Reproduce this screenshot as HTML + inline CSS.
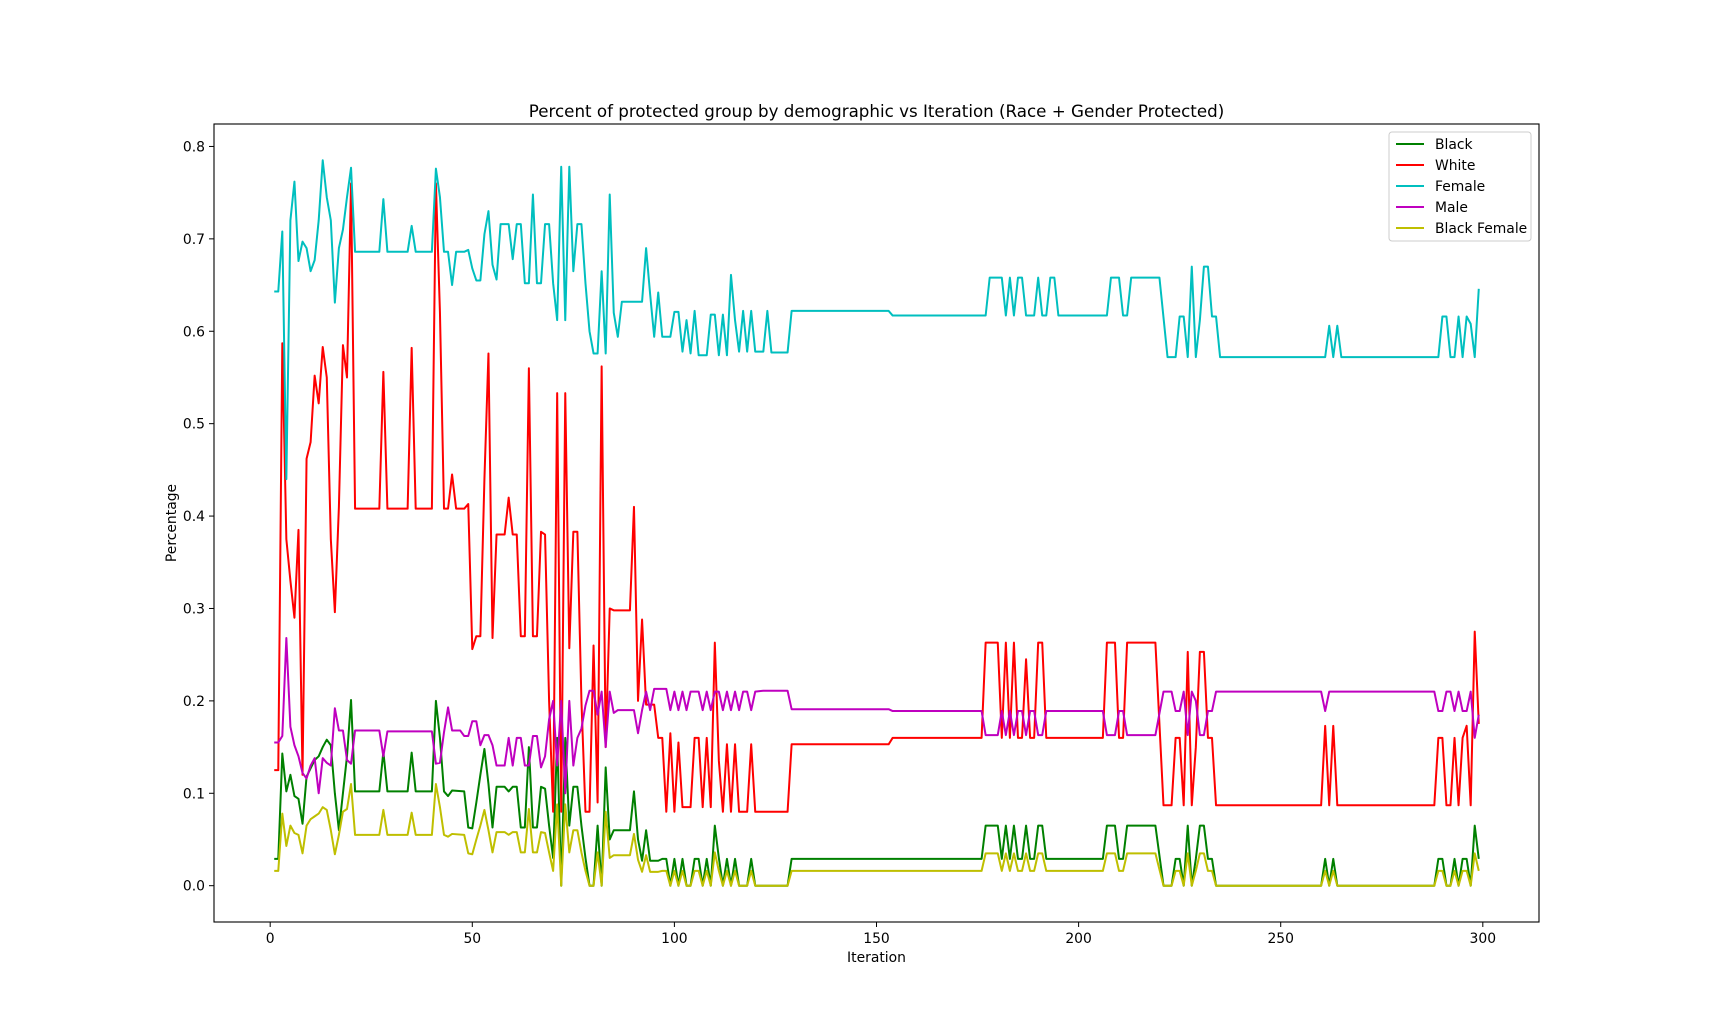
<!DOCTYPE html>
<html><head><meta charset="utf-8"><style>
html,body{margin:0;padding:0;background:#fff;}
svg{display:block;font-family:"DejaVu Sans","Liberation Sans",sans-serif;}
</style></head><body>
<svg id="chart" width="1710" height="1036" viewBox="0 0 1710 1036" xmlns="http://www.w3.org/2000/svg">
<rect width="1710" height="1036" fill="#fff"/>
<text x="876.5" y="117" text-anchor="middle" font-size="16.7">Percent of protected group by demographic vs Iteration (Race + Gender Protected)</text>
<g id="plot"></g>
<text x="876.5" y="962" text-anchor="middle" font-size="13.9">Iteration</text>
<text transform="translate(176,523) rotate(-90)" text-anchor="middle" font-size="13.9">Percentage</text>
</svg>
<script>
const xTicks=[0,50,100,150,200,250,300];
const yTicks=[0.0,0.1,0.2,0.3,0.4,0.5,0.6,0.7,0.8];
const seriesNames=["Black","White","Female","Male","Black Female"];
const seriesColors=["#008000","#ff0000","#00bfbf","#bf00bf","#bfbf00"];
const femaleX=[1,2,3,4,5,6,7,8,9,10,11,12,13,14,15,16,17,18,19,20,21,27,28,29,34,35,36,40,41,42,43,44,45,46,48,49,50,51,52,53,54,55,56,57,59,60,61,62,63,64,65,66,67,68,69,70,71,72,73,74,75,76,77,78,79,80,81,82,83,84,85,86,87,92,93,94,95,96,97,99,100,101,102,103,104,105,106,108,109,110,111,112,113,114,115,116,117,118,119,120,122,123,124,128,129,153,154,177,178,181,182,183,184,185,186,187,189,190,191,192,193,194,195,207,208,210,211,212,213,220,222,224,225,226,227,228,229,230,231,232,233,234,235,261,262,263,264,265,289,290,291,292,293,294,295,296,297,298,299];
const femaleY=[0.643,0.643,0.708,0.44,0.72,0.762,0.676,0.697,0.69,0.665,0.677,0.72,0.785,0.745,0.72,0.631,0.69,0.71,0.745,0.777,0.686,0.686,0.743,0.686,0.686,0.714,0.686,0.686,0.776,0.745,0.686,0.686,0.65,0.686,0.686,0.688,0.668,0.655,0.655,0.705,0.73,0.672,0.656,0.716,0.716,0.678,0.716,0.716,0.652,0.652,0.748,0.652,0.652,0.716,0.716,0.652,0.612,0.778,0.612,0.778,0.665,0.716,0.716,0.652,0.6,0.576,0.576,0.665,0.576,0.748,0.62,0.594,0.632,0.632,0.69,0.64,0.594,0.642,0.594,0.594,0.621,0.621,0.578,0.612,0.576,0.622,0.574,0.574,0.618,0.618,0.574,0.618,0.574,0.661,0.612,0.578,0.622,0.578,0.622,0.578,0.578,0.622,0.577,0.577,0.622,0.622,0.617,0.617,0.658,0.658,0.617,0.658,0.617,0.658,0.658,0.617,0.617,0.658,0.617,0.617,0.658,0.658,0.617,0.617,0.658,0.658,0.617,0.617,0.658,0.658,0.572,0.572,0.616,0.616,0.572,0.67,0.572,0.612,0.67,0.67,0.616,0.616,0.572,0.572,0.606,0.572,0.606,0.572,0.572,0.616,0.616,0.572,0.572,0.616,0.572,0.616,0.608,0.572,0.646,0.606];
const whiteX=[1,2,3,4,5,6,7,8,9,10,11,12,13,14,15,16,17,18,19,20,21,27,28,29,34,35,36,40,41,42,43,44,45,46,48,49,50,51,52,53,54,55,56,58,59,60,61,62,63,64,65,66,67,68,69,70,71,72,73,74,75,76,77,78,79,80,81,82,83,84,85,89,90,91,92,93,95,96,97,98,99,100,101,102,104,105,106,107,108,109,110,111,112,113,114,115,116,118,119,120,128,129,153,154,176,177,180,181,182,183,184,185,186,187,188,189,190,191,192,206,207,209,210,211,212,219,221,223,224,225,226,227,228,229,230,231,232,233,234,260,261,262,263,264,288,289,290,291,292,293,294,295,296,297,298,299];
const whiteY=[0.125,0.125,0.587,0.375,0.33,0.29,0.385,0.12,0.462,0.48,0.552,0.522,0.583,0.55,0.375,0.296,0.41,0.585,0.55,0.76,0.408,0.408,0.556,0.408,0.408,0.582,0.408,0.408,0.76,0.62,0.408,0.408,0.445,0.408,0.408,0.413,0.256,0.27,0.27,0.44,0.576,0.268,0.38,0.38,0.42,0.38,0.38,0.27,0.27,0.56,0.27,0.27,0.383,0.38,0.2,0.08,0.533,0.08,0.533,0.257,0.383,0.383,0.2,0.08,0.08,0.26,0.09,0.562,0.15,0.3,0.298,0.298,0.41,0.2,0.288,0.196,0.196,0.16,0.16,0.08,0.165,0.08,0.155,0.085,0.085,0.16,0.16,0.085,0.16,0.085,0.263,0.135,0.08,0.153,0.08,0.153,0.08,0.08,0.153,0.08,0.08,0.153,0.153,0.16,0.16,0.263,0.263,0.16,0.263,0.16,0.263,0.16,0.16,0.245,0.16,0.16,0.263,0.263,0.16,0.16,0.263,0.263,0.16,0.16,0.263,0.263,0.087,0.087,0.16,0.16,0.087,0.253,0.087,0.15,0.253,0.253,0.16,0.16,0.087,0.087,0.173,0.087,0.173,0.087,0.087,0.16,0.16,0.087,0.087,0.16,0.087,0.16,0.173,0.087,0.275,0.175];
const maleX=[1,2,3,4,5,6,7,8,9,10,11,12,13,14,15,16,17,18,19,20,21,27,28,29,40,41,42,43,44,45,47,48,49,50,51,52,53,54,55,56,58,59,60,61,62,63,64,65,66,67,68,69,70,71,72,73,74,75,76,77,78,79,80,81,82,83,84,85,86,90,91,92,93,94,95,98,99,100,101,102,103,104,106,107,108,109,110,111,112,113,114,115,116,117,118,119,120,122,128,129,153,154,176,177,180,181,182,183,184,185,186,187,188,189,190,191,192,206,207,209,210,211,212,219,221,223,224,225,226,227,228,229,230,231,232,233,234,260,261,262,288,289,290,291,292,293,294,295,296,297,298,299];
const maleY=[0.155,0.155,0.162,0.268,0.172,0.152,0.14,0.122,0.116,0.13,0.138,0.1,0.138,0.133,0.13,0.192,0.168,0.168,0.136,0.132,0.168,0.168,0.14,0.167,0.167,0.132,0.133,0.166,0.193,0.168,0.168,0.162,0.162,0.178,0.178,0.152,0.163,0.163,0.152,0.13,0.13,0.16,0.13,0.16,0.16,0.13,0.13,0.162,0.162,0.128,0.14,0.18,0.2,0.13,0.2,0.1,0.2,0.13,0.16,0.17,0.195,0.211,0.211,0.185,0.21,0.15,0.21,0.187,0.19,0.19,0.165,0.19,0.21,0.19,0.213,0.213,0.19,0.21,0.19,0.21,0.19,0.21,0.21,0.19,0.21,0.19,0.21,0.21,0.19,0.21,0.19,0.21,0.19,0.21,0.21,0.19,0.21,0.211,0.211,0.191,0.191,0.189,0.189,0.163,0.163,0.189,0.163,0.189,0.163,0.189,0.189,0.163,0.189,0.189,0.163,0.163,0.189,0.189,0.163,0.163,0.189,0.189,0.163,0.163,0.21,0.21,0.189,0.189,0.21,0.163,0.21,0.2,0.163,0.163,0.189,0.189,0.21,0.21,0.189,0.21,0.21,0.189,0.189,0.21,0.21,0.189,0.21,0.189,0.189,0.21,0.16,0.185];
const blackX=[1,2,3,4,5,6,7,8,9,10,11,12,13,14,15,16,17,18,19,20,21,27,28,29,34,35,36,40,41,42,43,44,45,48,49,50,51,52,53,54,55,56,58,59,60,61,62,63,64,65,66,67,68,69,70,71,72,73,74,75,76,77,78,79,80,81,82,83,84,85,89,90,91,92,93,94,96,97,98,99,100,101,102,103,104,105,106,107,108,109,110,111,112,113,114,115,116,118,119,120,128,129,176,177,180,181,182,183,184,185,186,187,188,189,190,191,192,206,207,209,210,211,212,219,221,223,224,225,226,227,228,229,230,231,232,233,234,260,261,262,263,264,288,289,290,291,292,293,294,295,296,297,298,299];
const blackY=[0.029,0.029,0.143,0.102,0.12,0.097,0.094,0.067,0.118,0.127,0.136,0.14,0.15,0.158,0.152,0.1,0.06,0.1,0.14,0.201,0.102,0.102,0.145,0.102,0.102,0.144,0.102,0.102,0.2,0.16,0.102,0.097,0.103,0.102,0.063,0.062,0.09,0.12,0.148,0.11,0.063,0.107,0.107,0.102,0.107,0.107,0.063,0.063,0.15,0.063,0.063,0.107,0.105,0.065,0.03,0.16,0.0,0.16,0.065,0.107,0.107,0.065,0.03,0.0,0.0,0.065,0.0,0.128,0.05,0.06,0.06,0.102,0.05,0.027,0.06,0.027,0.027,0.029,0.029,0.0,0.029,0.0,0.029,0.0,0.0,0.029,0.029,0.0,0.029,0.0,0.065,0.03,0.0,0.029,0.0,0.029,0.0,0.0,0.029,0.0,0.0,0.029,0.029,0.065,0.065,0.029,0.065,0.029,0.065,0.029,0.029,0.065,0.029,0.029,0.065,0.065,0.029,0.029,0.065,0.065,0.029,0.029,0.065,0.065,0.0,0.0,0.029,0.029,0.0,0.065,0.0,0.029,0.065,0.065,0.029,0.029,0.0,0.0,0.029,0.0,0.029,0.0,0.0,0.029,0.029,0.0,0.0,0.029,0.0,0.029,0.029,0.0,0.065,0.029];
const blackFemaleY=[0.016,0.016,0.078,0.043,0.065,0.057,0.055,0.035,0.065,0.072,0.075,0.078,0.085,0.082,0.06,0.034,0.055,0.08,0.083,0.11,0.055,0.055,0.082,0.055,0.055,0.079,0.055,0.055,0.11,0.085,0.055,0.053,0.056,0.055,0.035,0.034,0.05,0.065,0.082,0.06,0.036,0.058,0.058,0.055,0.058,0.058,0.036,0.036,0.083,0.036,0.036,0.058,0.057,0.036,0.016,0.088,0.0,0.088,0.036,0.06,0.06,0.036,0.016,0.0,0.0,0.036,0.0,0.08,0.03,0.033,0.033,0.056,0.028,0.015,0.033,0.015,0.015,0.016,0.016,0.0,0.016,0.0,0.016,0.0,0.0,0.016,0.016,0.0,0.016,0.0,0.036,0.016,0.0,0.016,0.0,0.016,0.0,0.0,0.016,0.0,0.0,0.016,0.016,0.035,0.035,0.016,0.035,0.016,0.035,0.016,0.016,0.035,0.016,0.016,0.035,0.035,0.016,0.016,0.035,0.035,0.016,0.016,0.035,0.035,0.0,0.0,0.016,0.016,0.0,0.035,0.0,0.016,0.035,0.035,0.016,0.016,0.0,0.0,0.016,0.0,0.016,0.0,0.0,0.016,0.016,0.0,0.0,0.016,0.0,0.016,0.016,0.0,0.035,0.016];

const L=214,R=1539,T=124,B=922;
const xMin=-13.9,xMax=313.9,yMin=-0.0393,yMax=0.8243;
function xs(v){return L+(v-xMin)/(xMax-xMin)*(R-L);}
function ys(v){return B-(v-yMin)/(yMax-yMin)*(B-T);}
const NS="http://www.w3.org/2000/svg";
const plot=document.getElementById('plot');
function mk(tag,attrs,parent){const e=document.createElementNS(NS,tag);for(const k in attrs)e.setAttribute(k,attrs[k]);(parent||plot).appendChild(e);return e;}

const seriesX=[blackX,whiteX,femaleX,maleX,blackX];
const seriesY=[blackY,whiteY,femaleY,maleY,blackFemaleY];
const seriesKeys=["black","white","female","male","black-female"];
for(let s=0;s<5;s++){
  const pts=seriesX[s].map((x,i)=>xs(x).toFixed(2)+","+ys(seriesY[s][i]).toFixed(2)).join(" ");
  const pl=mk('polyline',{points:pts,fill:"none",stroke:seriesColors[s],"stroke-width":"2","stroke-linejoin":"round"});
  
  
}
const frame=mk('rect',{x:L,y:T,width:R-L,height:B-T,fill:"none",stroke:"#000","stroke-width":"1.1"});


xTicks.forEach(t=>{
  const x=xs(t);
  const tk=mk('line',{x1:x,x2:x,y1:B,y2:B+5,stroke:"#000","stroke-width":"1"});
  
  
  const lb=mk('text',{x:x,y:B+21,"text-anchor":"middle","font-size":"13.9"});
  lb.textContent=String(t);
  
  
});
yTicks.forEach(t=>{
  const y=ys(t);
  const tk=mk('line',{x1:L-5,x2:L,y1:y,y2:y,stroke:"#000","stroke-width":"1"});
  
  
  const lb=mk('text',{x:L-9,y:y+5,"text-anchor":"end","font-size":"13.9"});
  lb.textContent=t.toFixed(1);
  
  
});
const lg=mk('g',{});


mk('rect',{x:1389,y:132,width:142,height:109,rx:3,fill:"#fff","fill-opacity":"0.8",stroke:"#ccc","stroke-width":"1"},lg);
seriesNames.forEach((n,i)=>{
  const y=144+i*21;
  const g=mk('g',{},lg);
  
  
  mk('line',{x1:1396,x2:1424,y1:y,y2:y,stroke:seriesColors[i],"stroke-width":"2"},g);
  const t=mk('text',{x:1435,y:y+5,"font-size":"13.9"},g);
  t.textContent=n;
});
</script>
</body></html>
